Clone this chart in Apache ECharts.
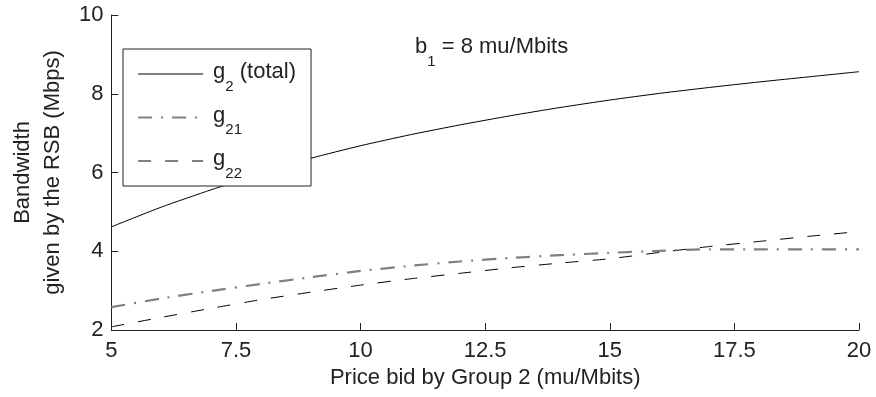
<!DOCTYPE html>
<html>
<head>
<meta charset="utf-8">
<script src="https://cdn.jsdelivr.net/npm/echarts@6/dist/echarts.min.js"></script>
<style>html,body{margin:0;padding:0;background:#fff}#c{width:876px;height:397px}</style>
</head>
<body>
<div id="c"></div>
<script>
// ---- data ----
const priceBid = [5, 6, 7, 8, 9, 10, 11, 12, 13, 14, 15, 16, 17, 18, 19, 20];
const g2Total  = [4.62, 5.12, 5.56, 5.97, 6.36, 6.68, 6.96, 7.21, 7.44, 7.65, 7.84, 8.01, 8.16, 8.30, 8.43, 8.56];
const g21      = [2.58, 2.80, 2.99, 3.17, 3.34, 3.50, 3.63, 3.74, 3.83, 3.90, 3.96, 4.01, 4.05, 4.05, 4.05, 4.05];
const g22      = [2.08, 2.32, 2.55, 2.77, 2.96, 3.14, 3.30, 3.44, 3.58, 3.70, 3.81, 3.97, 4.12, 4.25, 4.38, 4.50];
const seriesNames = ['g2 (total)', 'g21', 'g22'];
const legendTexts = ['{f|g}{s|2}{a| (total)}', '{f|g}{s|21}', '{f|g}{s|22}'];
const annotationText = '{a|b}{s|1}{a| = 8 mu/Mbits}';
const xAxisTitle = 'Price bid by Group 2 (mu/Mbits)';
const yAxisTitle = 'Bandwidth\ngiven by the RSB (Mbps)';

const FONT = '"Liberation Sans", Arial, Helvetica, sans-serif';
const TXT = '#222';
const richStyles = {
  a: {fontSize: 22, lineHeight: 26, verticalAlign: 'top', fontFamily: FONT, fontWeight: 'normal', color: TXT},
  f: {fontSize: 22, lineHeight: 26, verticalAlign: 'top', fontFamily: FONT, fontWeight: 'normal', color: TXT, padding: [0, 0, 0, 5]},
  s: {fontSize: 15, lineHeight: 15, verticalAlign: 'top', fontFamily: FONT, fontWeight: 'normal', color: TXT, padding: [18, 0, 0, 0]}
};

const styles = [
  {color: '#000000', width: 1, type: 'solid'},
  {color: '#808080', width: 2.2, type: [14, 9, 2, 9]},
  {color: '#000000', width: 1, type: [13, 14]}
];
const values = [g2Total, g21, g22];

const chart = echarts.init(document.getElementById('c'), null, {renderer: 'canvas'});
chart.setOption({
  animation: false,
  backgroundColor: '#ffffff',
  textStyle: {fontFamily: FONT},
  grid: {left: 105, right: 17, top: 15, bottom: 67, containLabel: false},
  title: {
    text: annotationText,
    left: 415, top: 36, padding: 0,
    textStyle: {fontWeight: 'normal', fontSize: 22, rich: richStyles}
  },
  legend: {
    orient: 'vertical',
    left: 123, top: 49,
    padding: [12, 15, 5, 14],
    itemGap: 10.5,
    itemWidth: 65, itemHeight: 14,
    backgroundColor: '#ffffff',
    borderColor: '#222',
    borderWidth: 1,
    borderRadius: 0,
    selectedMode: false,
    itemStyle: {opacity: 0},
    data: seriesNames.map((n, i) => ({name: n, lineStyle: {color: styles[i].color, width: styles[i].width, type: styles[i].type}})),
    formatter: name => legendTexts[seriesNames.indexOf(name)],
    textStyle: {rich: richStyles}
  },
  xAxis: {
    type: 'value', min: 5, max: 20, interval: 2.5,
    name: xAxisTitle, nameLocation: 'middle', nameGap: 36,
    nameTextStyle: {fontSize: 22, color: TXT, fontFamily: FONT},
    axisLine: {show: true, lineStyle: {color: '#222', width: 1}},
    axisTick: {show: true, inside: true, length: 7, lineStyle: {color: '#222', width: 1}},
    axisLabel: {margin: 10, fontSize: 22, color: TXT, fontFamily: FONT},
    splitLine: {show: false}
  },
  yAxis: {
    type: 'value', min: 2, max: 10, interval: 2,
    name: yAxisTitle, nameLocation: 'middle', nameGap: 38,
    nameTextStyle: {fontSize: 22, lineHeight: 30, color: TXT, fontFamily: FONT, align: 'center'},
    axisLine: {show: true, lineStyle: {color: '#222', width: 1}},
    axisTick: {show: true, inside: true, length: 7, lineStyle: {color: '#222', width: 1}},
    axisLabel: {margin: 8, fontSize: 22, color: TXT, fontFamily: FONT},
    splitLine: {show: false}
  },
  series: seriesNames.map((n, i) => ({
    name: n,
    type: 'line',
    symbol: 'none',
    smooth: 0.2,
    data: priceBid.map((x, k) => [x, values[i][k]]),
    lineStyle: {color: styles[i].color, width: styles[i].width, type: styles[i].type},
    itemStyle: {color: styles[i].color},
    z: 3 - i
  }))
});
</script>
</body>
</html>
